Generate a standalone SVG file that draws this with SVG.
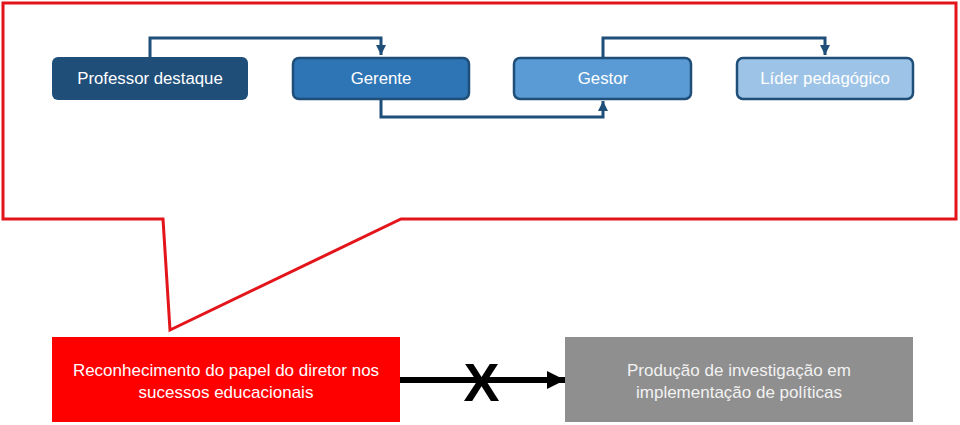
<svg xmlns="http://www.w3.org/2000/svg" width="960" height="425" viewBox="0 0 960 425">
<defs>
<style>
.lbl{font-family:"Liberation Sans",Arial,sans-serif;font-size:16.8px;fill:#ffffff;text-anchor:middle}
.top{stroke:#1F4E79;stroke-width:2.5}
.conn{fill:none;stroke:#1F4E79;stroke-width:3}
.big{font-family:"Liberation Sans",Arial,sans-serif;font-size:17px;text-anchor:middle}
</style>
<marker id="ah" viewBox="0 0 10 10" refX="10" refY="5" markerWidth="3.4" markerHeight="3.4" orient="auto" markerUnits="strokeWidth">
<path d="M0,0 L10,5 L0,10 Z" fill="#1F4E79"/>
</marker>
<marker id="bh" viewBox="0 0 10 10" refX="10" refY="5" markerWidth="3" markerHeight="3.2" orient="auto" markerUnits="strokeWidth">
<path d="M0,0 L10,5 L0,10 Z" fill="#000000"/>
</marker>
</defs>
<rect width="960" height="425" fill="#ffffff"/>
<g id="callout">
<path d="M3,3 L956,3 L956,219 L401,219 L170,330 L163,219 L3,219 Z" fill="none" stroke="#E3151B" stroke-width="3" stroke-linejoin="miter"/>
</g>
<g id="connectors">
<path class="conn" d="M150,57 V38 H381 V55" marker-end="url(#ah)"/>
<path class="conn" d="M381,99 V117 H603 V101" marker-end="url(#ah)"/>
<path class="conn" d="M603,57 V38 H825 V55" marker-end="url(#ah)"/>
<path d="M400,380 H565" fill="none" stroke="#000000" stroke-width="6" marker-end="url(#bh)"/>
</g>
<g id="n-professor">
<rect x="52" y="57" width="196" height="43" rx="6" fill="#1F4E79"/>
<text class="lbl" x="150" y="84">Professor destaque</text>
</g>
<g id="n-gerente">
<rect x="293" y="58" width="176" height="41" rx="6" fill="#2E75B6" class="top"/>
<text class="lbl" x="381" y="84">Gerente</text>
</g>
<g id="n-gestor">
<rect x="514" y="58" width="177" height="41" rx="6" fill="#5B9BD5" class="top"/>
<text class="lbl" x="603" y="84">Gestor</text>
</g>
<g id="n-lider">
<rect x="737" y="58" width="176" height="41" rx="6" fill="#9DC3E6" class="top"/>
<text class="lbl" x="825" y="84" fill="#EEF4FA">Líder pedagógico</text>
</g>
<g id="n-reconhecimento">
<rect x="52" y="337" width="348" height="85" fill="#FF0000"/>
<text class="big" x="226" y="376" fill="#ffffff">Reconhecimento do papel do diretor nos</text>
<text class="big" x="226" y="398" fill="#ffffff">sucessos educacionais</text>
</g>
<g id="n-producao">
<rect x="565" y="337" width="348" height="85" fill="#8F8F8F"/>
<text class="big" x="739" y="376" fill="#F2F2F2">Produção de investigação em</text>
<text class="big" x="739" y="398" fill="#F2F2F2">implementação de políticas</text>
</g>
<g id="x-mark">
<text x="481.5" y="401" font-family="Liberation Sans,Arial,sans-serif" font-weight="bold" font-size="54" text-anchor="middle" fill="#000000">X</text>
</g>
</svg>
